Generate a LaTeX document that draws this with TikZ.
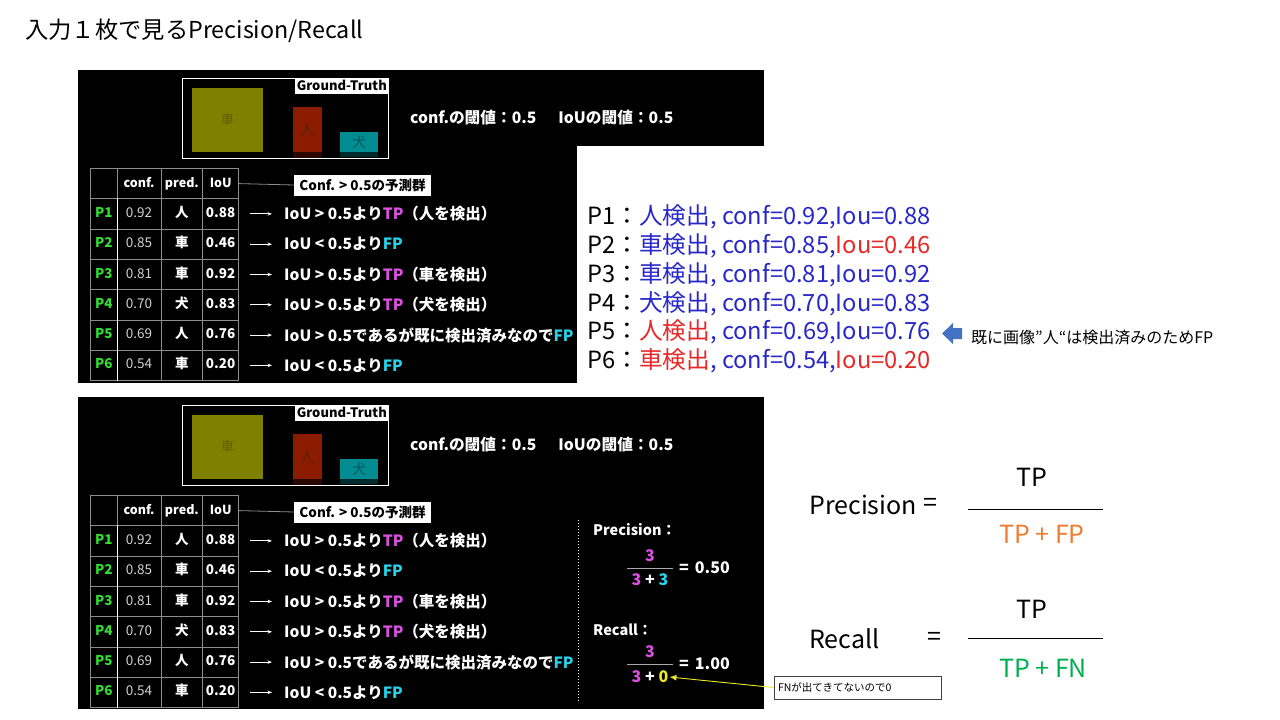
\documentclass[tikz,border=0pt]{standalone}
\usepackage{fontspec}
\setmainfont{Noto Sans CJK JP}
\usepackage{xcolor}
\usepackage{tikz}
\usetikzlibrary{matrix,arrows.meta}

\definecolor{tabline}{RGB}{140,140,140}
\definecolor{pgreen}{RGB}{50,220,50}
\definecolor{tpc}{RGB}{220,80,225}
\definecolor{fpc}{RGB}{40,210,235}
\definecolor{fnc}{RGB}{235,235,40}
\definecolor{carc}{RGB}{128,128,0}
\definecolor{cartx}{RGB}{95,95,10}
\definecolor{perc}{RGB}{140,28,0}
\definecolor{pertx}{RGB}{95,30,10}
\definecolor{dogc}{RGB}{0,140,145}
\definecolor{dogtx}{RGB}{0,90,95}
\definecolor{detb}{RGB}{40,40,200}
\definecolor{detr}{RGB}{230,40,40}
\definecolor{preco}{RGB}{237,125,49}
\definecolor{recg}{RGB}{0,176,80}
\definecolor{arrowc}{RGB}{68,114,196}
\definecolor{boxgray}{RGB}{64,64,64}
\definecolor{fracc}{RGB}{170,170,170}
\definecolor{valc}{RGB}{210,210,210}

\tikzset{
  ptext/.style={text=white, inner sep=1pt, font=\bfseries\fontsize{15.5}{18}\selectfont},
  btext/.style={text=white, inner sep=1pt, font=\bfseries\fontsize{14.5}{17}\selectfont},
  ntext/.style={text=white, inner sep=1pt, font=\bfseries\fontsize{16}{18}\selectfont},
  dtext/.style={anchor=west, inner sep=1pt, font=\fontsize{23.7}{26}\selectfont},
  ftext/.style={inner sep=1pt, font=\fontsize{25}{28}\selectfont}
}

\begin{document}
\begin{tikzpicture}[x=1pt,y=-1pt,>={Stealth[length=4.5pt,width=3.5pt]}]
\useasboundingbox (0,0) rectangle (1280,720);
\fill[white] (0,0) rectangle (1280,720);

\node (title) [anchor=west, inner sep=0pt, font=\fontsize{23.3}{25}\selectfont] at (25,31) {入力１枚で見るPrecision/Recall};

% black panels
\fill[black] (78,70) rectangle (764,383);
\fill[white] (577,146) rectangle (764,383);
\fill[black] (78,397) rectangle (764,709);

\foreach \p/\dy in {t/0,b/327}{
\begin{scope}[shift={(0,\dy)}]
  % ground truth
  \node (\p gt) [draw=white, line width=1pt, minimum width=206pt, minimum height=80pt] at (285,118) {};
  \node (\p gtl) [anchor=north east, fill=white, text=black, inner sep=1.5pt, minimum height=16pt,
    font=\bfseries\fontsize{13}{14}\selectfont] at (\p gt.north east) {Ground-Truth};
  \node (\p car) [fill=carc, text=cartx, minimum width=71pt, minimum height=64pt,
    font=\fontsize{13}{14}\selectfont] at (227.5,120) {車};
  \node (\p per) [fill=perc, text=pertx, minimum width=29pt, minimum height=45pt,
    font=\fontsize{15}{16}\selectfont] at (307.5,129.5) {人};
  \node (\p dog) [fill=dogc, text=dogtx, minimum width=38pt, minimum height=20pt, inner sep=0pt,
    font=\fontsize{14}{15}\selectfont] at (359,142) {犬};
  \fill[perc, opacity=0.3] (\p per.south west) rectangle ([yshift=-6pt]\p per.south east);
  \fill[dogc, opacity=0.3] (\p dog.south west) rectangle ([yshift=-5pt]\p dog.south east);
  \node (\p thr) [ptext, anchor=west, font=\bfseries\fontsize{15.7}{18}\selectfont] at (409,118)
    {conf.の閾値：0.5\hspace{22pt}IoUの閾値：0.5};

  % table of predictions
  \matrix (\p m) [matrix of nodes, ampersand replacement=\&, nodes in empty cells,
    column sep=-0.8pt, row sep=-0.8pt,
    nodes={draw=tabline, line width=0.8pt, anchor=center, minimum height=30.3pt, inner sep=0pt,
      text height=9.5pt, text depth=2.5pt, text=white, font=\bfseries\fontsize{13.5}{14}\selectfont},
    column 1/.style={nodes={minimum width=26.8pt, text=pgreen}},
    column 2/.style={nodes={minimum width=43.8pt, text=valc, font=\fontsize{13.5}{14}\selectfont}},
    column 3/.style={nodes={minimum width=41.8pt}},
    column 4/.style={nodes={minimum width=35.8pt}},
    row 1/.style={nodes={text=white, font=\bfseries\fontsize{12.5}{14}\selectfont}}]
    at (164.5,274.5) {
       \& conf. \& pred. \& IoU  \\
    P1 \& 0.92  \& 人    \& 0.88 \\
    P2 \& 0.85  \& 車    \& 0.46 \\
    P3 \& 0.81  \& 車    \& 0.92 \\
    P4 \& 0.70  \& 犬    \& 0.83 \\
    P5 \& 0.69  \& 人    \& 0.76 \\
    P6 \& 0.54  \& 車    \& 0.20 \\
    };
  \draw[white, line width=1pt] (\p m-2-1.north east) -- (\p m-7-1.south east);

  \node (\p lab) [fill=white, text=black, minimum width=137pt, minimum height=21pt, inner sep=1pt,
    font=\bfseries\fontsize{13.5}{15}\selectfont] at (362.5,185) {Conf. > 0.5の予測群};
  \draw[tabline, line width=0.8pt] (\p m-1-4.east) -- (\p lab.west);

  \foreach \i/\txt in {1/{IoU > 0.5より\textcolor{tpc}{TP}（人を検出）},
                       2/{IoU < 0.5より\textcolor{fpc}{FP}},
                       3/{IoU > 0.5より\textcolor{tpc}{TP}（車を検出）},
                       4/{IoU > 0.5より\textcolor{tpc}{TP}（犬を検出）},
                       5/{IoU > 0.5であるが既に検出済みなので\textcolor{fpc}{FP}},
                       6/{IoU < 0.5より\textcolor{fpc}{FP}}}{
    \pgfmathtruncatemacro\j{\i+1}
    \node (\p r\i) [ptext, anchor=west] at (283,0 |- \p m-\j-4) {\txt};
    \draw[->, white, line width=0.9pt] ([xshift=11pt]\p m-\j-4.east) -- ([xshift=-11pt]\p r\i.west);
  }
\end{scope}
}

% precision and recall in the lower panel
\draw[white, dotted, line width=1pt] (578,520) -- (578,703);
\node (prl) [btext, anchor=west] at (592,530) {Precision：};
\node (pnum) [ntext, text=tpc] at (650,556) {3};
\node (pden) [ntext] at (650,580) {\textcolor{tpc}{3} + \textcolor{fpc}{3}};
\draw[fracc, line width=1pt] (627,568) -- (673,568);
\node (pval) [ntext, anchor=west] at (678,568) {=\hspace{6pt}0.50};
\node (rcl) [btext, anchor=west] at (592,630) {Recall：};
\node (rnum) [ntext, text=tpc] at (650,652) {3};
\node (rden) [ntext] at (650,677) {\textcolor{tpc}{3} + \textcolor{fnc}{0}};
\draw[fracc, line width=1pt] (627,664) -- (673,664);
\node (rval) [ntext, anchor=west] at (678,664) {=\hspace{6pt}1.00};

\node (fn) [draw=boxgray, fill=white, line width=0.8pt, minimum height=23pt, inner sep=4pt,
  text width=159pt, align=left, font=\fontsize{10.5}{12}\selectfont] at (857.5,687.5) {FNが出てきてないので0};
\draw[fnc, line width=0.9pt, -{Latex[length=7pt,width=6pt]}] (fn.west) -- (rden.east);

% detections
\foreach \i/\txt in {1/{P1：\textcolor{detb}{人検出, conf=0.92,Iou=0.88}},
                     2/{P2：\textcolor{detb}{車検出, conf=0.85,}\textcolor{detr}{Iou=0.46}},
                     3/{P3：\textcolor{detb}{車検出, conf=0.81,Iou=0.92}},
                     4/{P4：\textcolor{detb}{犬検出, conf=0.70,Iou=0.83}},
                     5/{P5：\textcolor{detr}{人検出}\textcolor{detb}{, conf=0.69,Iou=0.76}},
                     6/{P6：\textcolor{detr}{車検出}\textcolor{detb}{, conf=0.54,}\textcolor{detr}{Iou=0.20}}}{
  \node (d\i) [dtext] at (586,{217+(\i-1)*28.8}) {\txt};
}
\fill[arrowc] (942,333.5) -- (953,323) -- (953,328) -- (962,328) -- (962,339) -- (953,339) -- (953,344) -- cycle;
\node (note) [anchor=west, inner sep=1pt, font=\fontsize{16}{18}\selectfont] at (970,337) {既に画像”人“は検出済みのためFP};

% formulas
\node (pre) [ftext, anchor=west] at (808,505) {Precision};
\node (peq) [ftext] at (930,505) {=};
\node (ptp) [ftext] at (1032,477) {TP};
\node (pdn) [ftext, text=preco] at (1042,534) {TP + FP};
\draw[black, line width=0.8pt] (968,509) -- (1103,509);
\node (rec) [ftext, anchor=west] at (808,639) {Recall};
\node (req) [ftext] at (934,639) {=};
\node (rtp) [ftext] at (1032,609) {TP};
\node (rdn) [ftext, text=recg] at (1043,668) {TP + FN};
\draw[black, line width=0.8pt] (968,638) -- (1103,638);
\end{tikzpicture}
\end{document}
